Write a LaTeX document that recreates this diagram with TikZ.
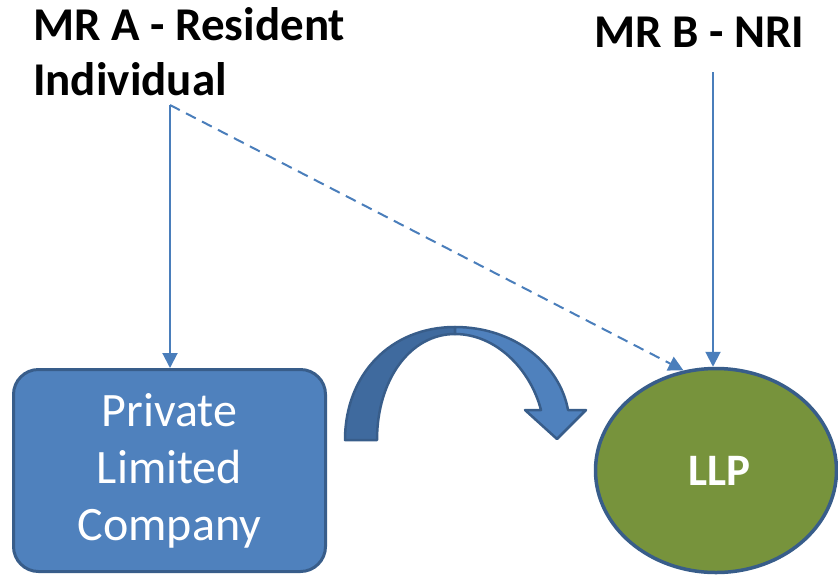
\documentclass[tikz,border=0pt]{standalone}
\usepackage{fontspec}
\setmainfont{Carlito}
\usetikzlibrary{arrows.meta,shapes.geometric}

\definecolor{linkblue}{HTML}{4A7EBB}
\definecolor{boxblue}{HTML}{4F81BD}
\definecolor{edgeblue}{HTML}{385D8A}
\definecolor{darkband}{HTML}{3F6A9E}
\definecolor{llpgreen}{HTML}{77933C}

\tikzset{
  party/.style={anchor=base west, inner sep=0pt, align=left,
    font=\bfseries\fontsize{47}{55}\selectfont},
  entitybox/.style={draw=edgeblue, fill=boxblue, line width=3pt,
    rounded corners=25pt, minimum width=312pt, minimum height=202pt,
    inner sep=0pt, text=white, align=center,
    font=\fontsize{48}{57}\selectfont},
  entityoval/.style={ellipse, draw=edgeblue, fill=llpgreen, line width=3.5pt,
    minimum width=241pt, minimum height=204pt, inner sep=0pt,
    text=white, font=\bfseries\fontsize{45}{54}\selectfont},
  link/.style={draw=linkblue, line width=2pt,
    -{Triangle[width=15pt,length=15pt]}},
  dashlink/.style={link, dash pattern=on 11pt off 7pt},
  bandedge/.style={draw=edgeblue, line width=2.5pt, line join=round}
}

\begin{document}
\begin{tikzpicture}[x=1pt, y=-1pt]
  \useasboundingbox (0,0) rectangle (838,574);

  % owners (a two-line node sits on the baseline of its last line)
  \node[party] (mra) at (33,95) {MR A - Resident\\Individual};
  \node[party] (mrb) at (594,47) {MR B - NRI};

  % entities
  \node[entitybox] (pvt) at (169.5,470.5) {Private\\Limited\\Company};
  \node[entityoval] (llp) at (716,470.5) {\hspace*{6pt}LLP};

  % ownership links
  \coordinate (aj) at (170,105);
  \coordinate (bj) at (713,72);
  \draw[link] (aj) -- (pvt.north -| aj);
  \draw[dashlink] (aj) -- (llp.108);
  \draw[link] (bj) -- (bj |- llp.north);

  % conversion arrow: back half of the band
  \path[bandedge, fill=darkband]
    (345,440) .. controls (345,375) and (390,327) .. (455,327)
    -- (455,334) .. controls (410,334) and (377,380) .. (377,440) -- cycle;
  % front half with the arrowhead
  \path[bandedge, fill=boxblue]
    (455,327) .. controls (515,327) and (560,365) .. (568,410)
    -- (586,410) -- (557,439) -- (525,410) -- (541,410)
    .. controls (530,368) and (495,334) .. (455,334) -- cycle;
\end{tikzpicture}
\end{document}
